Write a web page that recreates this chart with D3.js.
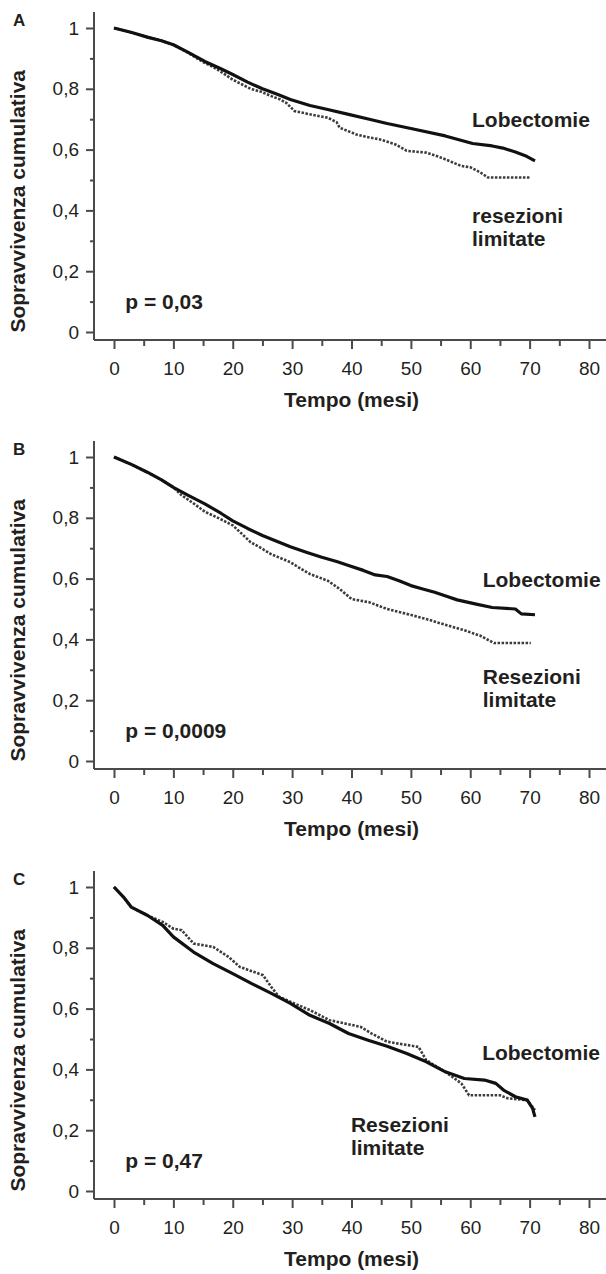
<!DOCTYPE html>
<html>
<head>
<meta charset="utf-8">
<script src="https://cdn.jsdelivr.net/npm/d3@7"></script>
<style>
  html, body { margin: 0; padding: 0; background: #fff; }
  svg { display: block; font-family: "Liberation Sans", Arial, Helvetica, sans-serif; }
  .tick text { fill: #231f20; font-size: 19px; }
  .bold { font-weight: bold; fill: #231f20; }
</style>
</head>
<body>
<div id="chart"></div>
<script>
// --- Dati ---
const monthTicks = [0, 10, 20, 30, 40, 50, 60, 70, 80];
const monthMinor = [5, 15, 25, 35, 45, 55, 65, 75];
const survTicks = [0, 0.2, 0.4, 0.6, 0.8, 1];
const survMinor = [0.1, 0.3, 0.5, 0.7, 0.9];

const panelLetters = ["A", "B", "C"];
const pValues = ["p = 0,03", "p = 0,0009", "p = 0,47"];
const lobLabel = "Lobectomie";
const resLabels = [["resezioni", "limitate"], ["Resezioni", "limitate"], ["Resezioni", "limitate"]];

// [mese, sopravvivenza]
const lobectomieA = [[0, 1], [3, 0.985], [5.6, 0.97], [8, 0.958], [10, 0.945], [12.5, 0.92], [15.3, 0.89], [18, 0.866],
  [20, 0.847], [22.5, 0.822], [25, 0.8], [27.5, 0.782], [29.7, 0.765], [33, 0.745], [36, 0.732], [39.5, 0.716],
  [43, 0.7], [46, 0.686], [50.6, 0.667], [55.8, 0.645], [60.4, 0.62], [63.7, 0.612], [65.5, 0.605], [67.6, 0.592],
  [69.5, 0.578], [70.9, 0.563]];
const resezioniA = [[0, 1], [3, 0.985], [5.6, 0.97], [8, 0.958], [10, 0.945], [12.5, 0.918], [15, 0.888], [16.7, 0.872],
  [18.5, 0.85], [20, 0.83], [21.5, 0.815], [23, 0.8], [24.8, 0.79], [26.5, 0.776], [28, 0.765], [29, 0.754],
  [30.4, 0.727], [33, 0.716], [36, 0.705], [37.5, 0.69], [38, 0.672], [40.8, 0.65], [42.5, 0.642], [44.7, 0.634],
  [47.4, 0.617], [49.3, 0.596], [52.6, 0.59], [54.2, 0.58], [55.8, 0.568], [58.5, 0.546], [60, 0.542], [61.7, 0.525],
  [63, 0.508], [70.2, 0.508]];

const lobectomieB = [[0, 1], [3, 0.975], [5.6, 0.95], [8, 0.925], [10, 0.9], [12.5, 0.874], [15.3, 0.846], [18, 0.815],
  [20, 0.79], [22.5, 0.765], [25, 0.742], [27.5, 0.722], [29.7, 0.705], [32.5, 0.686], [35, 0.67], [37.5, 0.656],
  [39.5, 0.643], [42, 0.627], [44, 0.612], [46, 0.607], [48, 0.593], [50, 0.577], [52, 0.566], [54, 0.555],
  [56, 0.542], [57.8, 0.53], [61, 0.516], [63.7, 0.505], [67.6, 0.5], [68.6, 0.484], [70.9, 0.481]];
const resezioniB = [[0, 1], [3, 0.975], [5.6, 0.95], [8, 0.925], [10, 0.9], [11.4, 0.874], [13.5, 0.846], [15.3, 0.82],
  [17.5, 0.8], [20, 0.775], [21.5, 0.748], [23, 0.72], [24.8, 0.7], [26.5, 0.68], [28, 0.668], [29.7, 0.654],
  [31.5, 0.632], [33, 0.615], [36, 0.593], [38, 0.566], [40, 0.533], [43, 0.522], [46, 0.5], [49.3, 0.484],
  [52.6, 0.467], [55.8, 0.448], [59, 0.43], [61.7, 0.412], [64, 0.388], [70.2, 0.388]];

const lobectomieC = [[0, 1], [1.6, 0.967], [2.9, 0.934], [5.6, 0.907], [8.2, 0.874], [10, 0.836], [13.4, 0.786],
  [16.7, 0.748], [20, 0.715], [23.2, 0.682], [26.5, 0.65], [29.7, 0.617], [33, 0.578], [36.3, 0.551], [39.5, 0.518],
  [42.8, 0.496], [46, 0.476], [49.3, 0.452], [52.6, 0.425], [55.8, 0.392], [59, 0.37], [62.4, 0.365], [64.3, 0.354],
  [65.6, 0.332], [67.6, 0.31], [69.6, 0.299], [70.5, 0.272], [70.9, 0.244]];
const resezioniC = [[0, 1], [1.6, 0.967], [2.9, 0.934], [5.6, 0.907], [8.2, 0.885], [10, 0.863], [11.4, 0.858],
  [13.4, 0.814], [16.7, 0.803], [19.3, 0.77], [21.2, 0.737], [25.1, 0.71], [26.5, 0.671], [27.8, 0.639], [30, 0.62],
  [33, 0.595], [36.3, 0.562], [41.5, 0.54], [43.4, 0.518], [46, 0.491], [51.3, 0.474], [52.6, 0.43], [55.8, 0.392],
  [58.5, 0.354], [59.8, 0.315], [65, 0.315], [66.3, 0.305], [69.6, 0.299], [70.9, 0.266]];

const lobectomie = [lobectomieA, lobectomieB, lobectomieC];
const resezioni = [resezioniA, resezioniB, resezioniC];

// --- Layout ---
const width = 606, height = 1274;
const panelTops = [28, 457, 887];
const plotH = 304;
const axisX = 94;
// posizione delle etichette nelle coordinate dei dati [mese, sopravvivenza]
const lobPos = [[60.3, 0.674], [62.1, 0.572], [62.0, 0.431]];
const resPos = [[60.3, 0.359], [62.1, 0.253], [39.9, 0.194]];
const pPos = [1.9, 0.075];

const x = d3.scaleLinear().domain([0, 80]).range([114, 589]);

const svg = d3.select("#chart").append("svg")
  .attr("width", width)
  .attr("height", height);

const fmt = d => d === 0 ? "0" : d === 1 ? "1" : d.toFixed(1).replace(".", ",");

panelLetters.forEach((letter, i) => {
  const top = panelTops[i];
  const y = d3.scaleLinear().domain([0, 1]).range([top + plotH, top]);
  const g = svg.append("g");
  const baseY = y(0) + 8;

  // assi
  g.append("line")
    .attr("x1", axisX).attr("x2", axisX)
    .attr("y1", y(1) - 16).attr("y2", baseY)
    .attr("stroke", "#4a4a4a").attr("stroke-width", 2);
  g.append("line")
    .attr("x1", axisX).attr("x2", width)
    .attr("y1", baseY).attr("y2", baseY)
    .attr("stroke", "#4a4a4a").attr("stroke-width", 2);

  // tick asse y
  g.append("g")
    .attr("transform", `translate(${axisX},0)`)
    .call(d3.axisLeft(y).tickValues(survTicks).tickFormat(fmt).tickSize(8).tickPadding(7));
  g.append("g")
    .attr("transform", `translate(${axisX},0)`)
    .call(d3.axisLeft(y).tickValues(survMinor).tickFormat("").tickSize(4));

  // tick asse x
  const xAxis = g.append("g")
    .attr("transform", `translate(0,${baseY})`)
    .call(d3.axisBottom(x).tickValues(monthTicks).tickFormat(d3.format("d")).tickSize(9));
  xAxis.selectAll("text").attr("y", 35).attr("dy", null);
  g.append("g")
    .attr("transform", `translate(0,${baseY})`)
    .call(d3.axisBottom(x).tickValues(monthMinor).tickFormat("").tickSize(6));

  g.selectAll(".domain").remove();
  g.selectAll(".tick line").attr("stroke", "#4a4a4a").attr("stroke-width", 2);

  // curve
  const line = d3.line().x(d => x(d[0])).y(d => y(d[1]));

  g.append("path")
    .datum(resezioni[i])
    .attr("d", line)
    .attr("fill", "none")
    .attr("stroke", "#3c3c3c")
    .attr("stroke-width", 2.6)
    .attr("stroke-dasharray", "2.5,1.5");

  g.append("path")
    .datum(lobectomie[i])
    .attr("d", line)
    .attr("fill", "none")
    .attr("stroke", "#111")
    .attr("stroke-width", 3.2)
    .attr("stroke-linejoin", "round");

  // testi
  g.append("text").attr("class", "bold")
    .attr("x", 13).attr("y", y(1) - 2)
    .style("font-size", "17px")
    .text(letter);

  g.append("text").attr("class", "bold")
    .attr("transform", `translate(25,${y(0.43)}) rotate(-90)`)
    .attr("text-anchor", "middle")
    .style("font-size", "21px")
    .text("Sopravvivenza cumulativa");

  g.append("text").attr("class", "bold")
    .attr("x", (x(0) + x(80)) / 2)
    .attr("y", y(0) + 75)
    .attr("text-anchor", "middle")
    .style("font-size", "21px")
    .text("Tempo (mesi)");

  g.append("text").attr("class", "bold")
    .attr("x", x(lobPos[i][0])).attr("y", y(lobPos[i][1]))
    .style("font-size", "21px")
    .text(lobLabel);

  const rt = g.append("text").attr("class", "bold")
    .attr("x", x(resPos[i][0])).attr("y", y(resPos[i][1]))
    .style("font-size", "21px");
  resLabels[i].forEach((s, k) => {
    rt.append("tspan")
      .attr("x", x(resPos[i][0]))
      .attr("dy", k === 0 ? 0 : 23)
      .text(s);
  });

  g.append("text").attr("class", "bold")
    .attr("x", x(pPos[0])).attr("y", y(pPos[1]))
    .style("font-size", "21px")
    .text(pValues[i]);
});
</script>
</body>
</html>
